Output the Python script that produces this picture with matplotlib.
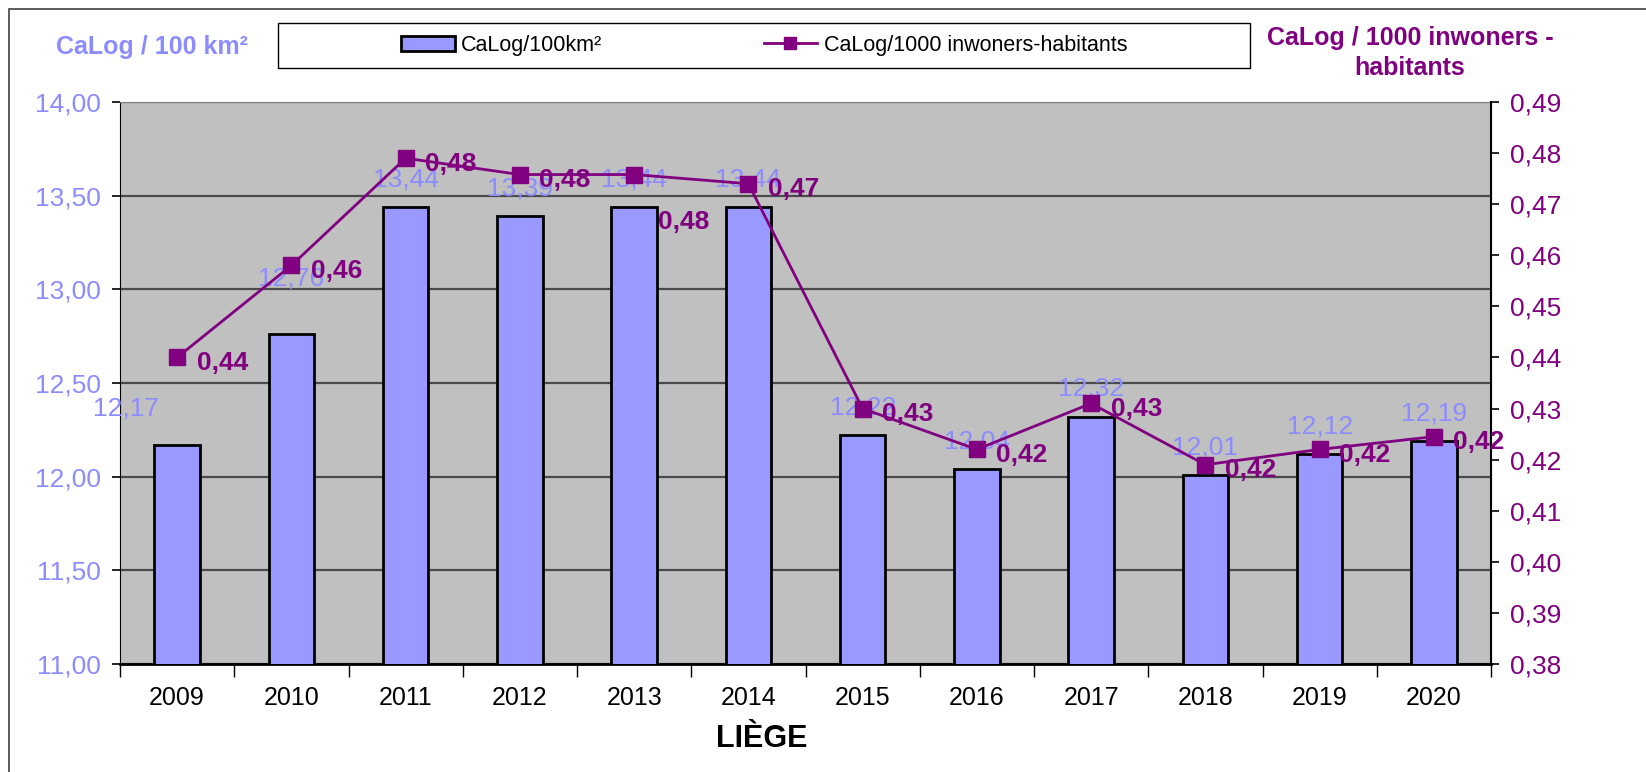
import matplotlib.pyplot as plt
from matplotlib.patches import Rectangle
from matplotlib.lines import Line2D
from matplotlib.ticker import FuncFormatter, MultipleLocator, FixedLocator

plt.rcParams['font.family'] = ['Liberation Sans', 'DejaVu Sans']

years = ['2009', '2010', '2011', '2012', '2013', '2014',
         '2015', '2016', '2017', '2018', '2019', '2020']
calog_km = [12.17, 12.76, 13.44, 13.39, 13.44, 13.44,
            12.22, 12.04, 12.32, 12.01, 12.12, 12.19]
calog_inh = [0.440, 0.458, 0.479, 0.4758, 0.4758, 0.474,
             0.430, 0.422, 0.431, 0.419, 0.422, 0.4245]

bar_col = '#9999FF'
lbl_blue = '#8C8CFF'
purple = '#800080'

# label placement tweaks (offset points), default for the rest
bar_lbl_off = {0: (-37, 26), 1: (0, 40)}
line_lbl_off = {4: (17, -34)}

def comma(fmt):
    return FuncFormatter(lambda v, p: (fmt % v).replace('.', ','))

fig = plt.figure(figsize=(16.46, 7.72), dpi=100)
# outer chart frame
fig.patches.append(Rectangle((9/1646, -0.01), 1.0, 1 - 9/772 + 0.01,
                             transform=fig.transFigure, fill=False,
                             edgecolor='#404040', linewidth=1.2))

ax = fig.add_axes([120/1646, 1 - 664/772, 1371/1646, 562/772])
ax.set_facecolor('#C0C0C0')
x = list(range(len(years)))
ax.bar(x, calog_km, width=0.4, color=bar_col, edgecolor='black',
       linewidth=2, zorder=3)
ax.set_ylim(11, 14)
ax.set_xlim(-0.5, len(years) - 0.5)
ax.yaxis.set_major_locator(MultipleLocator(0.5))
ax.yaxis.set_major_formatter(comma('%.2f'))
ax.grid(axis='y', color='#4a4a4a', linewidth=1.6, zorder=1)
ax.set_axisbelow(True)
ax.tick_params(axis='y', colors=lbl_blue, labelsize=19, length=6, width=1.2, pad=8)
ax.tick_params(axis='y', color='black')
ax.set_xticks(x)
ax.set_xticklabels(years, fontsize=18)
ax.tick_params(axis='x', length=0, pad=16)
ax.xaxis.set_minor_locator(FixedLocator([i - 0.5 for i in range(len(years) + 1)]))
ax.tick_params(axis='x', which='minor', length=9, width=1, color='black')
for s in ['top', 'right']:
    ax.spines[s].set_color('#808080')
ax.spines['left'].set_color('black')
ax.spines['bottom'].set_color('black')
ax.spines['bottom'].set_linewidth(2)

for i, v in enumerate(calog_km):
    ax.annotate(('%.2f' % v).replace('.', ','), (i, v),
                xytext=bar_lbl_off.get(i, (0, 20)),
                textcoords='offset points', ha='center', va='center',
                fontsize=19, color=lbl_blue, zorder=5, annotation_clip=False)

ax2 = ax.twinx()
ax2.plot(x, calog_inh, color=purple, linewidth=2, marker='s', markersize=11,
         zorder=4)
ax2.set_ylim(0.38, 0.49)
ax2.yaxis.set_major_locator(MultipleLocator(0.01))
ax2.yaxis.set_major_formatter(comma('%.2f'))
ax2.tick_params(axis='y', colors=purple, labelsize=19, length=6, width=1.2, pad=8)
ax2.tick_params(axis='y', color='black')
ax2.spines['right'].set_color('black')
ax2.spines['right'].set_linewidth(1.5)
for s in ['top', 'left', 'bottom']:
    ax2.spines[s].set_visible(False)

for i, v in enumerate(calog_inh):
    ax2.annotate(('%.2f' % v).replace('.', ','), (i, v),
                 xytext=line_lbl_off.get(i, (14, -4)),
                 textcoords='offset points', ha='left', va='center',
                 fontsize=19, fontweight='bold', color=purple, zorder=6,
                 annotation_clip=False)

# axis titles
fig.text(152/1646, 1 - 47/772, 'CaLog / 100 km²', ha='center', va='center',
         fontsize=18, fontweight='bold', color=lbl_blue)
fig.text(1410/1646, 1 - 53/772, 'CaLog / 1000 inwoners -\nhabitants',
         ha='center', va='center', fontsize=18, fontweight='bold',
         color=purple, linespacing=1.35)
fig.text(762/1646, 1 - 739/772, 'LIÈGE', ha='center', va='center',
         fontsize=22, fontweight='bold', color='black')

# legend
fig.patches.append(Rectangle((278/1646, 1 - 68/772), 972/1646, 45/772,
                             transform=fig.transFigure, fill=False,
                             edgecolor='black', linewidth=1))
handles = [Rectangle((0, 0), 1, 1, facecolor=bar_col, edgecolor='black', linewidth=2),
           Line2D([], [], color=purple, linewidth=2, marker='s', markersize=9)]
fig.legend(handles, ['CaLog/100km²', 'CaLog/1000 inwoners-habitants'],
           loc='center', bbox_to_anchor=(764/1646, 1 - 45.5/772), ncol=2,
           frameon=False, fontsize=15.5, columnspacing=7.5, handlelength=2.5,
           handletextpad=0.3)

fig.savefig('out.png', dpi=100)
